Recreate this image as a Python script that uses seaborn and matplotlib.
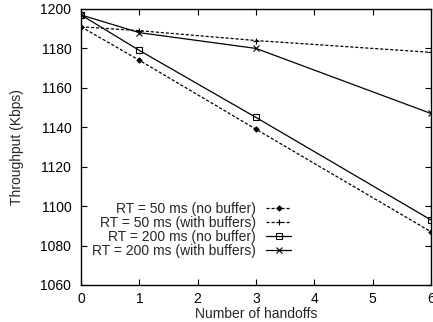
import matplotlib
matplotlib.use("Agg")
import matplotlib.pyplot as plt
import seaborn as sns
import pandas as pd

handoffs = [0, 1, 3, 6]
rt50_nobuf = [1191, 1174, 1139, 1087]
rt50_buf = [1191, 1189, 1184, 1178]
rt200_nobuf = [1197, 1179, 1145, 1093]
rt200_buf = [1197, 1188, 1180, 1147]
labels = ["RT = 50 ms (no buffer)", "RT = 50 ms (with buffers)",
          "RT = 200 ms (no buffer)", "RT = 200 ms (with buffers)"]

sns.set_style("ticks")
plt.rcParams['font.family'] = ['Liberation Sans', 'DejaVu Sans']

fig = plt.figure(figsize=(4.33, 3.22), dpi=100)
ax = fig.add_axes([81 / 433, 1 - 285 / 322, 350 / 433, 276 / 322])

series = [rt50_nobuf, rt50_buf, rt200_nobuf, rt200_buf]
styles = [
    dict(linestyle=(0, (2.5, 1.5)), marker='D', markersize=2.8, markerfacecolor='black', markeredgewidth=0.6),
    dict(linestyle=(0, (2.5, 1.5)), marker='+', markersize=5, markeredgewidth=0.8),
    dict(linestyle='-', marker='s', markersize=4, markerfacecolor='none', markeredgewidth=0.8),
    dict(linestyle='-', marker='x', markersize=4, markeredgewidth=0.8),
]
for vals, lab, st in zip(series, labels, styles):
    df = pd.DataFrame({"x": handoffs, "y": vals})
    sns.lineplot(data=df, x="x", y="y", ax=ax, color='black', linewidth=0.9,
                 label=lab, markeredgecolor='black', **st)

ax.set_xlim(0, 6)
ax.set_ylim(1060, 1200)
ax.set_xticks(range(0, 7))
ax.set_yticks(range(1060, 1201, 20))
ax.tick_params(direction='in', length=4, width=0.8, labelsize=10, top=True, right=True,
               colors='black')
ax.tick_params(axis='y', pad=7)
ax.tick_params(axis='x', pad=5)
for s in ax.spines.values():
    s.set_linewidth(1.0)
    s.set_color('black')
ax.set_xlabel("Number of handoffs", fontsize=10, labelpad=1)
ax.set_ylabel("Throughput (Kbps)", fontsize=10, labelpad=12)

leg = ax.legend(loc='center right', bbox_to_anchor=(0.6, 0.20), frameon=False,
                markerfirst=False, fontsize=10, handlelength=1.8, labelspacing=0.0,
                handletextpad=0.75, borderaxespad=0, borderpad=0)
for t in leg.get_texts():
    t.set_ha('right')
leg._legend_box.align = "right"

fig.savefig("out.png", dpi=100)
